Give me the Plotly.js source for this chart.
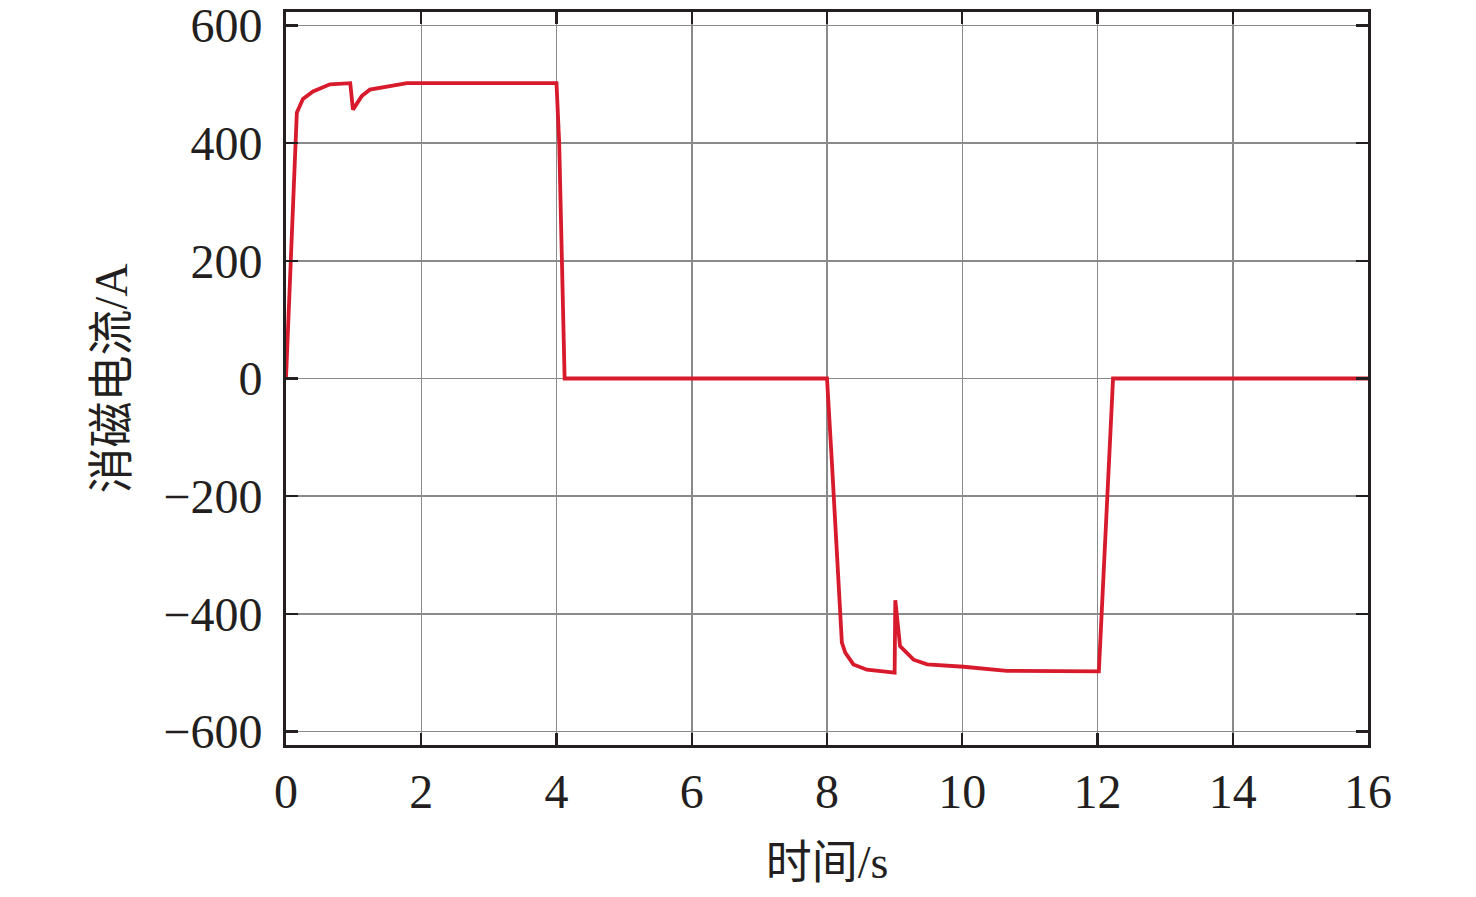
<!DOCTYPE html>
<html>
<head>
<meta charset="utf-8">
<script src="https://cdn.plot.ly/plotly-3.0.1.min.js"></script>
<style>html,body{margin:0;padding:0;background:#fff;}#chart{width:1476px;height:897px;}</style>
</head>
<body>
<div id="chart"></div>
<script>
// time (s)
const timeS = [0, 0.16, 0.25, 0.40, 0.65, 0.95, 0.99, 1.12, 1.24, 1.54, 1.79, 4.0, 4.04, 4.12,
               8.0, 8.07, 8.22, 8.27, 8.39, 8.59, 9.0, 9.01, 9.08, 9.28, 9.48, 10.02, 10.66, 12.02, 12.23, 16];
// demagnetizing current (A)
const currentA = [0, 452, 475, 488, 500, 502, 457, 480, 491, 497, 502, 502, 400, 0,
                  0, -138, -449, -466, -486, -495, -500, -377, -455, -478, -486, -490, -497, -498, 0, 0];
const xTicks = [0, 2, 4, 6, 8, 10, 12, 14, 16];
const yTicks = [-600, -400, -200, 0, 200, 400, 600];

const fontFam = '"Liberation Serif", "Times New Roman", "Noto Sans CJK SC", serif';
const axisCommon = {
  showline: true, linecolor: '#231f20', linewidth: 3, mirror: 'ticks',
  ticks: 'inside', ticklen: 12, tickwidth: 2.4, tickcolor: '#231f20',
  showgrid: true, gridcolor: '#8a8a8a', gridwidth: 1.5,
  zeroline: false, ticklabeloverflow: 'allow',
  tickfont: {family: fontFam, size: 48, color: '#231f20'}
};

const trace = {
  x: timeS, y: currentA, type: 'scatter', mode: 'lines',
  line: {color: '#d71a2c', width: 3.8}, hoverinfo: 'skip'
};

const layout = {
  width: 1476, height: 897,
  margin: {l: 286, r: 108, t: 12, b: 152},
  paper_bgcolor: '#fff', plot_bgcolor: '#fff',
  showlegend: false,
  xaxis: Object.assign({}, axisCommon, {
    range: [0, 16], tickvals: xTicks, ticktext: xTicks.map(String),
    ticklabelstandoff: 2,
    title: {text: '时间/s', font: {family: fontFam, size: 46, color: '#231f20'}, standoff: 30}
  }),
  yaxis: Object.assign({}, axisCommon, {
    range: [-623, 623], tickvals: yTicks,
    ticktext: yTicks.map(v => v < 0 ? '\u2212' + Math.abs(v) : String(v)),
    ticklabelstandoff: 11,
    title: {text: '消磁电流/A', font: {family: fontFam, size: 46, color: '#231f20'}, standoff: 22}
  })
};

Plotly.newPlot('chart', [trace], layout, {staticPlot: true, displayModeBar: false});
</script>
</body>
</html>
